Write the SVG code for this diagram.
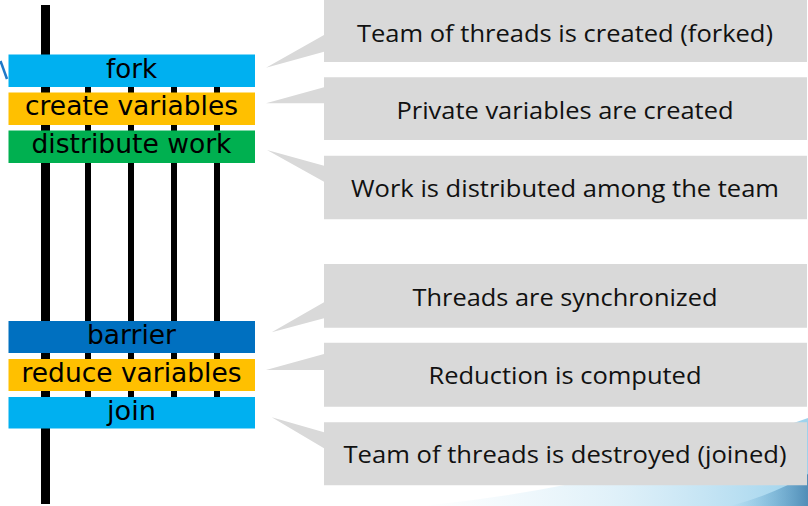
<svg xmlns="http://www.w3.org/2000/svg" width="808" height="506" viewBox="0 0 808 506">
  <defs>
    <linearGradient id="swirl" x1="0" y1="0" x2="1" y2="0">
      <stop offset="0" stop-color="#d8eef8" stop-opacity="0"/>
      <stop offset="0.5" stop-color="#cfe9f6" stop-opacity="0.65"/>
      <stop offset="1" stop-color="#9dd2ec"/>
    </linearGradient>
    <linearGradient id="swirlDark" x1="0" y1="0" x2="1" y2="0">
      <stop offset="0" stop-color="#4aa6d6" stop-opacity="0"/>
      <stop offset="1" stop-color="#1f5f93"/>
    </linearGradient>
  </defs>
  <style>
    .step text { font-family: "DejaVu Sans", Verdana, sans-serif; font-size: 26px; fill: #000; text-anchor: middle; }
    .note path { fill: #d9d9d9; }
    .note text { font-family: "Open Sans", "Liberation Sans", sans-serif; font-size: 24.5px; fill: #111; text-anchor: middle; }
    .thread { stroke: #000; stroke-width: 6; }
  </style>

  <rect width="808" height="506" fill="#fff"/>

  <!-- background swoosh, lower right -->
  <path d="M420,506 Q610,488 808,418 L808,506 Z" fill="url(#swirl)"/>
  <path d="M730,506 Q775,494 808,474 L808,506 Z" fill="url(#swirlDark)" opacity="0.6"/>

  <!-- stray title stroke at left edge -->
  <line x1="0.5" y1="61" x2="7" y2="79" stroke="#1f78c8" stroke-width="2.5"/>

  <!-- threads -->
  <g id="threads">
    <line x1="45.5" y1="5" x2="45.5" y2="504" stroke="#000" stroke-width="9"/>
    <line class="thread" x1="88" y1="80" x2="88" y2="400"/>
    <line class="thread" x1="131" y1="80" x2="131" y2="400"/>
    <line class="thread" x1="174" y1="80" x2="174" y2="400"/>
    <line class="thread" x1="217" y1="80" x2="217" y2="400"/>
  </g>

  <!-- construct steps -->
  <g id="fork" class="step">
    <rect x="8.5" y="54.5" width="246.5" height="32.5" fill="#00b0f0"/>
    <text x="131.5" y="77.5" textLength="51" lengthAdjust="spacingAndGlyphs">fork</text>
  </g>
  <g id="create-variables" class="step">
    <rect x="8.5" y="92.5" width="246.5" height="32.5" fill="#ffc000"/>
    <text x="131.5" y="115.3" textLength="213" lengthAdjust="spacingAndGlyphs">create variables</text>
  </g>
  <g id="distribute-work" class="step">
    <rect x="8.5" y="130.5" width="246.5" height="32.5" fill="#00b050"/>
    <text x="131.5" y="153.3" textLength="200" lengthAdjust="spacingAndGlyphs">distribute work</text>
  </g>
  <g id="barrier" class="step">
    <rect x="8.5" y="321" width="246.5" height="32" fill="#0070c0"/>
    <text x="131.5" y="343.5" textLength="89" lengthAdjust="spacingAndGlyphs">barrier</text>
  </g>
  <g id="reduce-variables" class="step">
    <rect x="8.5" y="359" width="246.5" height="32" fill="#ffc000"/>
    <text x="131.5" y="381.5" textLength="220" lengthAdjust="spacingAndGlyphs">reduce variables</text>
  </g>
  <g id="join" class="step">
    <rect x="8.5" y="397" width="246.5" height="31.5" fill="#00b0f0"/>
    <text x="131.5" y="419.5" textLength="49" lengthAdjust="spacingAndGlyphs">join</text>
  </g>

  <!-- callout notes -->
  <g id="note-fork" class="note">
    <path d="M324,0 H807 V62 H324 V51.7 L266,67.7 L324,35 Z"/>
    <text x="565" y="41.5" textLength="416" lengthAdjust="spacingAndGlyphs">Team of threads is created (forked)</text>
  </g>
  <g id="note-create" class="note">
    <path d="M324,77.3 H807 V140 H324 V103.3 L266,103.3 L324,87.3 Z"/>
    <text x="565" y="119" textLength="337" lengthAdjust="spacingAndGlyphs">Private variables are created</text>
  </g>
  <g id="note-distribute" class="note">
    <path d="M324,155.7 V165.7 L267,150 L324,181.7 V219.3 H807 V155.7 Z"/>
    <text x="565" y="196.7" textLength="428" lengthAdjust="spacingAndGlyphs">Work is distributed among the team</text>
  </g>
  <g id="note-barrier" class="note">
    <path d="M324,264 H807 V327.7 H324 V318.3 L271.7,332.3 L324,302.3 Z"/>
    <text x="565" y="305.5" textLength="305" lengthAdjust="spacingAndGlyphs">Threads are synchronized</text>
  </g>
  <g id="note-reduce" class="note">
    <path d="M324,342.7 H807 V406.7 H324 V370 L266,370 L324,354 Z"/>
    <text x="565" y="384.3" textLength="273" lengthAdjust="spacingAndGlyphs">Reduction is computed</text>
  </g>
  <g id="note-join" class="note">
    <path d="M324,422.3 V432.3 L271.7,417.3 L324,448.3 V485.3 H807 V422.3 Z"/>
    <text x="565" y="463.3" textLength="443" lengthAdjust="spacingAndGlyphs">Team of threads is destroyed (joined)</text>
  </g>
</svg>
